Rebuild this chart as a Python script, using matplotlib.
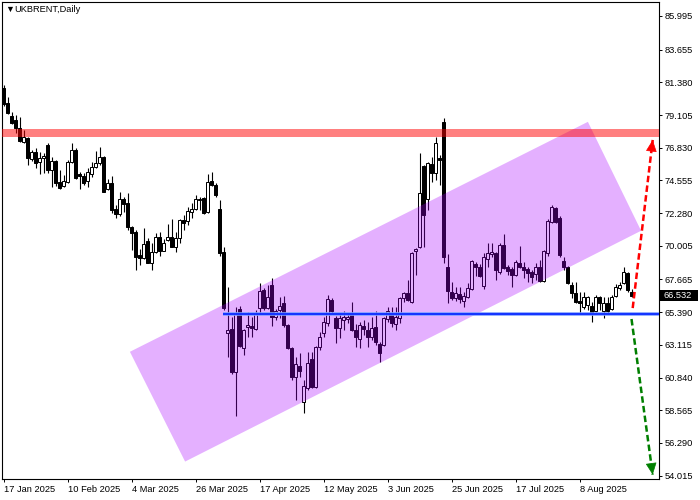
import numpy as np
import matplotlib
matplotlib.use('Agg')
import matplotlib.pyplot as plt
from matplotlib.patches import Polygon, Rectangle
import matplotlib.transforms as mtransforms

plt.rcParams['font.family'] = ['Liberation Sans', 'DejaVu Sans']

# ---------------- data (UKBRENT daily, 17 Jan 2025 .. 27 Aug 2025) ----------------
opens = [80.99, 79.95, 79.04, 78.76, 78.21, 77.23, 77.51, 76.05, 76.54, 75.84,
         76.12, 77.03, 75.29, 75.91, 74.45, 74.18, 74.45, 75.84, 76.68, 75.01,
         74.87, 74.52, 75.01, 75.50, 75.78, 76.19, 73.97, 74.38, 72.58, 72.23,
         73.27, 72.99, 71.33, 70.98, 69.38, 69.17, 70.35, 68.82, 69.59, 70.63,
         69.66, 70.42, 70.63, 69.93, 70.56, 71.81, 71.74, 72.37, 72.58, 73.20,
         73.34, 72.37, 74.52, 74.25, 72.58, 69.59, 63.96, 64.23, 61.24, 65.62,
         62.91, 64.37, 64.44, 64.23, 65.69, 66.95, 65.69, 67.29, 65.07, 65.56,
         66.04, 64.51, 62.91, 60.90, 61.66, 59.16, 60.13, 62.15, 60.20, 62.98,
         63.96, 64.65, 66.25, 65.00, 64.30, 64.86, 64.93, 65.35, 64.17, 63.54,
         64.44, 64.17, 63.68, 64.37, 63.19, 63.12, 64.93, 65.35, 64.58, 65.00,
         66.39, 66.74, 66.11, 69.66, 69.93, 75.57, 73.27, 75.71, 75.08, 76.12,
         78.63, 68.55, 66.81, 66.39, 66.67, 66.18, 66.46, 67.02, 68.75, 68.55,
         67.22, 69.10, 69.45, 69.52, 68.20, 70.07, 68.55, 68.41, 67.99, 68.82,
         68.55, 68.41, 68.20, 68.06, 68.55, 67.57, 69.52, 71.67, 72.65, 71.95,
         68.96, 68.55, 67.29, 66.74, 66.18, 65.76, 65.90, 65.83, 65.49, 66.46,
         65.49, 66.04, 65.62, 66.53, 67.08, 67.43, 68.13, 66.81]
highs = [81.20, 80.36, 79.32, 79.11, 78.97, 78.07, 77.58, 76.68, 76.82, 76.54,
         76.47, 77.16, 76.19, 75.98, 75.29, 74.94, 75.98, 77.16, 76.82, 75.15,
         75.08, 75.43, 75.84, 76.61, 76.89, 76.26, 74.66, 74.87, 72.86, 73.76,
         73.41, 73.69, 71.40, 71.12, 69.80, 71.26, 70.56, 70.21, 70.91, 70.98,
         70.49, 71.53, 71.88, 70.98, 71.88, 72.16, 72.72, 72.99, 73.55, 73.41,
         73.41, 75.01, 75.15, 74.38, 73.20, 69.93, 67.15, 65.07, 65.76, 65.83,
         64.23, 65.42, 65.07, 65.56, 67.43, 67.09, 67.29, 67.78, 65.62, 66.46,
         66.53, 64.58, 62.98, 62.29, 62.57, 60.69, 62.63, 62.63, 63.05, 64.03,
         65.07, 66.60, 66.39, 65.14, 65.35, 65.49, 65.35, 66.11, 64.58, 64.72,
         64.86, 64.72, 65.07, 65.49, 63.33, 65.07, 65.76, 65.76, 65.76, 66.46,
         66.81, 67.64, 69.59, 69.85, 76.47, 75.64, 75.84, 76.19, 77.58, 76.33,
         78.90, 69.45, 67.50, 67.15, 67.15, 66.81, 67.43, 69.03, 68.89, 68.75,
         69.52, 70.21, 70.21, 69.59, 70.21, 70.84, 68.68, 68.55, 69.03, 70.00,
         68.89, 68.55, 68.34, 68.82, 69.03, 69.73, 71.88, 72.86, 72.72, 72.09,
         69.24, 68.61, 67.50, 67.50, 66.81, 66.81, 66.53, 66.11, 66.60, 66.53,
         66.46, 66.46, 66.60, 67.36, 67.50, 68.55, 68.20, 67.02]
lows = [79.74, 79.18, 78.49, 77.86, 77.23, 77.16, 75.64, 75.91, 75.43, 75.01,
        75.08, 75.08, 74.11, 74.18, 73.97, 74.11, 74.38, 75.78, 74.66, 73.97,
        74.25, 74.11, 74.80, 75.43, 75.64, 73.72, 73.90, 72.30, 71.95, 72.09,
        72.37, 71.12, 69.73, 68.34, 68.68, 69.10, 68.78, 68.34, 69.52, 69.31,
        69.62, 70.35, 69.90, 69.59, 70.21, 71.12, 71.47, 71.95, 72.51, 72.51,
        72.23, 72.30, 74.18, 73.41, 69.31, 65.56, 62.29, 61.11, 58.19, 62.98,
        62.43, 63.68, 63.68, 64.17, 65.35, 65.56, 65.62, 64.44, 64.86, 65.00,
        64.37, 62.84, 60.69, 59.30, 60.90, 58.39, 59.99, 60.13, 60.13, 62.77,
        63.68, 64.44, 65.35, 63.26, 63.61, 64.17, 64.65, 64.10, 62.98, 62.91,
        63.82, 62.98, 63.47, 63.12, 61.94, 63.05, 64.72, 64.37, 64.17, 64.65,
        66.11, 66.18, 66.04, 67.99, 69.87, 69.93, 72.51, 74.45, 74.59, 74.25,
        68.82, 66.04, 66.25, 66.18, 66.04, 65.76, 66.39, 66.95, 67.92, 67.85,
        67.02, 68.55, 69.24, 67.64, 68.06, 68.41, 67.99, 67.15, 67.92, 68.48,
        67.78, 67.50, 67.43, 67.64, 67.50, 67.50, 69.31, 71.60, 71.60, 69.24,
        68.34, 67.36, 66.39, 66.04, 65.28, 65.62, 65.56, 64.72, 65.42, 65.56,
        65.00, 65.35, 65.56, 66.46, 66.95, 67.36, 66.81, 66.46]
closes = [79.88, 79.25, 78.56, 78.21, 77.30, 77.58, 76.12, 76.54, 75.78, 76.12,
          76.26, 75.29, 75.91, 74.38, 74.04, 74.52, 75.84, 76.68, 74.73, 74.87,
          74.38, 75.15, 75.50, 75.78, 76.19, 73.76, 74.38, 72.51, 72.23, 73.27,
          72.93, 71.33, 70.91, 69.24, 69.17, 70.14, 68.82, 69.59, 70.63, 69.66,
          70.21, 70.63, 69.93, 70.56, 71.81, 71.60, 72.44, 72.58, 73.27, 73.27,
          72.30, 74.45, 74.25, 73.55, 69.52, 65.69, 64.17, 61.24, 65.35, 63.05,
          64.17, 64.51, 64.30, 65.28, 66.88, 65.69, 66.46, 65.07, 65.49, 65.83,
          64.51, 62.91, 60.90, 61.80, 61.31, 60.27, 61.87, 60.20, 62.98, 63.68,
          64.72, 66.32, 65.49, 64.30, 65.00, 65.07, 65.07, 64.17, 63.68, 64.51,
          64.23, 63.68, 64.30, 63.33, 62.57, 65.00, 65.49, 64.65, 65.07, 66.39,
          66.74, 66.25, 69.52, 69.80, 73.69, 72.16, 75.78, 75.08, 77.16, 75.98,
          69.24, 66.88, 66.39, 66.74, 66.32, 66.53, 67.08, 68.96, 68.55, 67.92,
          69.24, 69.52, 69.59, 68.34, 70.07, 68.48, 68.27, 67.99, 68.89, 68.55,
          68.34, 68.13, 67.85, 68.55, 67.57, 69.66, 71.74, 72.72, 71.67, 69.38,
          68.55, 67.43, 66.74, 66.11, 66.04, 66.46, 66.46, 65.42, 66.46, 66.04,
          66.04, 65.49, 66.46, 67.15, 67.29, 68.20, 66.95, 66.532]

date_labels = ['17 Jan 2025', '10 Feb 2025', '4 Mar 2025', '26 Mar 2025', '17 Apr 2025',
               '12 May 2025', '3 Jun 2025', '25 Jun 2025', '17 Jul 2025', '8 Aug 2025']
date_label_bars = [0, 16, 32, 48, 64, 80, 96, 112, 128, 144]

price_ticks = [85.995, 83.655, 81.380, 79.105, 76.830, 74.555, 72.280, 70.005,
               67.665, 65.390, 63.115, 60.840, 58.565, 56.290, 54.015]
price_tick_labels = ['85.995', '83.655', '81.380', '79.105', '76.830', '74.555', '72.280',
                     '70.005', '67.665', '65.390', '63.115', '60.840', '58.565', '56.290', '54.015']

last_price = 66.532

# drawn objects (bar index, price)
channel_bars = [31.6, 45.4, 159.4, 146.1]
channel_prices = [62.63, 54.99, 71.05, 78.63]
resistance_band = [77.56, 78.12]
support_level = 65.28
support_start_bar = 54.9
up_arrow = [(157.3, 65.67), (162.3, 77.37)]
down_arrow = [(157.0, 64.91), (162.3, 54.08)]

# ---------------- figure ----------------
fig = plt.figure(figsize=(7, 5), dpi=100)
fig.patch.set_facecolor('white')
ax = fig.add_axes([2 / 700, 21 / 500, 657 / 700, 477 / 500])
ax.set_facecolor('white')

n = len(opens)
x = np.arange(n)
o = np.array(opens); h = np.array(highs); l = np.array(lows); c = np.array(closes)
ax.vlines(x, l, h, color='black', lw=0.8, zorder=2)
bottom = np.minimum(o, c)
height = np.maximum(np.abs(c - o), 0.05)
face = np.where(c >= o, 'white', 'black')
ax.bar(x, height, bottom=bottom, width=0.62, color=face, edgecolor='black',
       linewidth=0.72, zorder=3)

# channel
poly = Polygon(list(zip(channel_bars, channel_prices)), closed=True,
               facecolor='#AA00FF', alpha=0.31, edgecolor='none', zorder=4)
ax.add_patch(poly)

# resistance band
ax.axhspan(resistance_band[0], resistance_band[1], color='#FF0000', alpha=0.5,
           lw=0, zorder=5)

xmin, xmax = -0.375, 163.875
# support line
ax.hlines(support_level, support_start_bar, xmax, color='#7f9fff', lw=2.6, zorder=5)
ax.hlines(support_level, support_start_bar, xmax, color='#0022ff', lw=1.2, zorder=6)

# arrows
def dashed_arrow(p0, p1, color):
    ax.plot([p0[0], p1[0]], [p0[1], p1[1]], color=color, lw=1.8,
            linestyle=(0, (2.6, 1.3)), dash_capstyle='butt', zorder=7)
    back = (p1[0] + 0.07 * (p0[0] - p1[0]), p1[1] + 0.07 * (p0[1] - p1[1]))
    ax.annotate('', xy=p1, xytext=back,
                arrowprops=dict(arrowstyle='-|>,head_length=7.5,head_width=3.5',
                                mutation_scale=1, color=color, lw=0.5,
                                shrinkA=0, shrinkB=0), zorder=8)

dashed_arrow(up_arrow[0], up_arrow[1], '#FF0000')
dashed_arrow(down_arrow[0], down_arrow[1], '#007F00')

ax.set_xlim(xmin, xmax)
ax.set_ylim(53.778, 86.968)

# axes styling
for sp in ax.spines.values():
    sp.set_color('black')
    sp.set_linewidth(0.8)
ax.yaxis.tick_right()
ax.set_yticks(price_ticks)
ax.set_yticklabels(price_tick_labels)
ax.tick_params(axis='y', direction='out', length=2.5, width=0.7, pad=1.5,
               labelsize=6.7, colors='black', left=False, right=True)
ax.set_xticks(date_label_bars)
ax.set_xticklabels(date_labels, ha='left')
ax.tick_params(axis='x', direction='out', length=2.5, width=0.7, pad=1.5,
               labelsize=6.7, colors='black')

# last price label
trans = mtransforms.blended_transform_factory(fig.transFigure, ax.transData)
ax.add_artist(Rectangle((660 / 700, last_price - 0.40), 38 / 700, 0.80,
                        transform=trans, facecolor='black', edgecolor='none',
                        clip_on=False, zorder=10))
fig.text(664 / 700, 0, '66.532', transform=trans, color='white', fontsize=6.7,
         va='center', ha='left', zorder=11).set_y(last_price)

# title
fig.text(5 / 700, 1 - 9.5 / 500, '\u25bc', fontsize=6.5, va='center', ha='left',
         color='black')
fig.text(14 / 700, 1 - 10 / 500, 'UKBRENT,Daily', fontsize=6.7, va='center',
         ha='left', color='black')

fig.savefig('out.png', dpi=100, facecolor='white')
